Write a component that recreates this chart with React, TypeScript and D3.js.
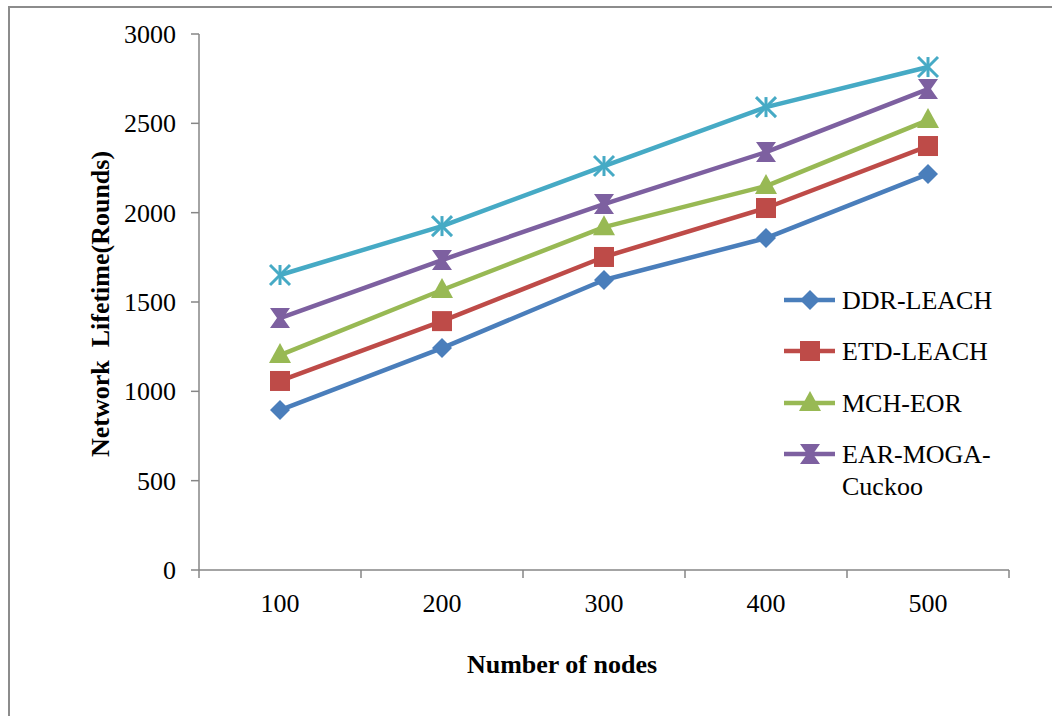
import * as d3 from "d3";

const categories = ["100", "200", "300", "400", "500"];
const yTicks = [0, 500, 1000, 1500, 2000, 2500, 3000];

const ddrLeach = [895, 1242, 1623, 1858, 2216];
const etdLeach = [1058, 1393, 1752, 2026, 2373];
const mchEor = [1203, 1567, 1919, 2149, 2518];
const earMogaCuckoo = [1410, 1735, 2048, 2339, 2692];
const proposed = [1651, 1925, 2261, 2591, 2815];

type Series = {
  name: string[];
  values: number[];
  color: string;
  marker: "diamond" | "square" | "triangle" | "hourglass" | "star";
  legend: boolean;
};

const series: Series[] = [
  { name: ["DDR-LEACH"], values: ddrLeach, color: "#4A7EBB", marker: "diamond", legend: true },
  { name: ["ETD-LEACH"], values: etdLeach, color: "#BE4B48", marker: "square", legend: true },
  { name: ["MCH-EOR"], values: mchEor, color: "#98B954", marker: "triangle", legend: true },
  { name: ["EAR-MOGA-", "Cuckoo"], values: earMogaCuckoo, color: "#7D60A0", marker: "hourglass", legend: true },
  { name: [""], values: proposed, color: "#46AAC5", marker: "star", legend: false },
];

const W = 1052;
const H = 716;
const margin = { left: 199, right: 43, top: 34, bottom: 146 };
const font = "'Liberation Serif', 'Times New Roman', serif";
const axisColor = "#868686";
const fs = 26;

function Marker({ kind, x, y, color }: { kind: Series["marker"]; x: number; y: number; color: string }) {
  if (kind === "diamond") {
    const r = 10;
    return <path d={`M${x},${y - r}L${x + r},${y}L${x},${y + r}L${x - r},${y}Z`} fill={color} />;
  }
  if (kind === "square") {
    const r = 10;
    return <rect x={x - r} y={y - r} width={2 * r} height={2 * r} fill={color} />;
  }
  if (kind === "triangle") {
    return <path d={`M${x},${y - 12}L${x + 11},${y + 8}L${x - 11},${y + 8}Z`} fill={color} />;
  }
  if (kind === "hourglass") {
    const r = 10;
    return (
      <path
        d={`M${x - r},${y - r}L${x + r},${y - r}L${x + 3},${y}L${x + r},${y + r}L${x - r},${y + r}L${x - 3},${y}Z`}
        fill={color}
      />
    );
  }
  const r = 10;
  return (
    <g stroke={color} strokeWidth={3}>
      <line x1={x - r} y1={y - r} x2={x + r} y2={y + r} />
      <line x1={x - r} y1={y + r} x2={x + r} y2={y - r} />
      <line x1={x} y1={y - r} x2={x} y2={y + r} />
    </g>
  );
}

export default function App() {
  const x = d3
    .scaleBand<string>()
    .domain(categories)
    .range([margin.left, W - margin.right]);
  const y = d3
    .scaleLinear()
    .domain([0, 3000])
    .range([H - margin.bottom, margin.top]);
  const cx = (c: string) => (x(c) as number) + x.bandwidth() / 2;

  const line = d3
    .line<number>()
    .x((_, i) => cx(categories[i]))
    .y((d) => y(d));

  const y0 = y(0);
  const bandEdges = categories.map((c) => x(c) as number).concat([W - margin.right]);

  const legendRows = [300, 351, 403, 454];

  return (
    <svg
      width={W}
      height={H}
      style={{ position: "absolute", left: 0, top: 0, background: "#fff" }}
      fontFamily={font}
    >
      {/* outer frame */}
      <rect x={9} y={7} width={W + 20} height={H + 20} fill="none" stroke="#8c8c8c" strokeWidth={2} />

      {/* y axis */}
      <line x1={margin.left} x2={margin.left} y1={y(3000)} y2={y0} stroke={axisColor} strokeWidth={1.5} />
      {yTicks.map((t) => (
        <g key={t}>
          <line x1={margin.left - 8} x2={margin.left} y1={y(t)} y2={y(t)} stroke={axisColor} strokeWidth={1.5} />
          <text x={176} y={y(t)} dy="0.35em" textAnchor="end" fontSize={fs}>
            {t}
          </text>
        </g>
      ))}

      {/* x axis */}
      <line x1={margin.left} x2={W - margin.right} y1={y0} y2={y0} stroke={axisColor} strokeWidth={1.5} />
      {bandEdges.map((e, i) => (
        <line key={i} x1={e} x2={e} y1={y0} y2={y0 + 8} stroke={axisColor} strokeWidth={1.5} />
      ))}
      {categories.map((c) => (
        <text key={c} x={cx(c)} y={603} dy="0.35em" textAnchor="middle" fontSize={fs}>
          {c}
        </text>
      ))}

      {/* axis titles */}
      <text x={562} y={664} dy="0.35em" textAnchor="middle" fontSize={fs} fontWeight="bold">
        Number of nodes
      </text>
      <text
        transform={`translate(100, 304) rotate(-90)`}
        dy="0.35em"
        textAnchor="middle"
        fontSize={fs}
        fontWeight="bold"
        style={{ whiteSpace: "pre" }}
      >
        {"Network  Lifetime(Rounds)"}
      </text>

      {/* series */}
      {series.map((s) => (
        <g key={s.color}>
          <path d={line(s.values) ?? ""} fill="none" stroke={s.color} strokeWidth={4.5} strokeLinejoin="round" />
          {s.values.map((v, i) => (
            <Marker key={i} kind={s.marker} x={cx(categories[i])} y={y(v)} color={s.color} />
          ))}
        </g>
      ))}

      {/* legend */}
      {series
        .filter((s) => s.legend)
        .map((s, i) => (
          <g key={s.color}>
            <line x1={784} x2={835} y1={legendRows[i]} y2={legendRows[i]} stroke={s.color} strokeWidth={4.5} />
            <Marker kind={s.marker} x={810} y={legendRows[i]} color={s.color} />
            {s.name.map((n, j) => (
              <text key={j} x={842} y={legendRows[i] + j * 32} dy="0.35em" fontSize={fs}>
                {n}
              </text>
            ))}
          </g>
        ))}
    </svg>
  );
}
